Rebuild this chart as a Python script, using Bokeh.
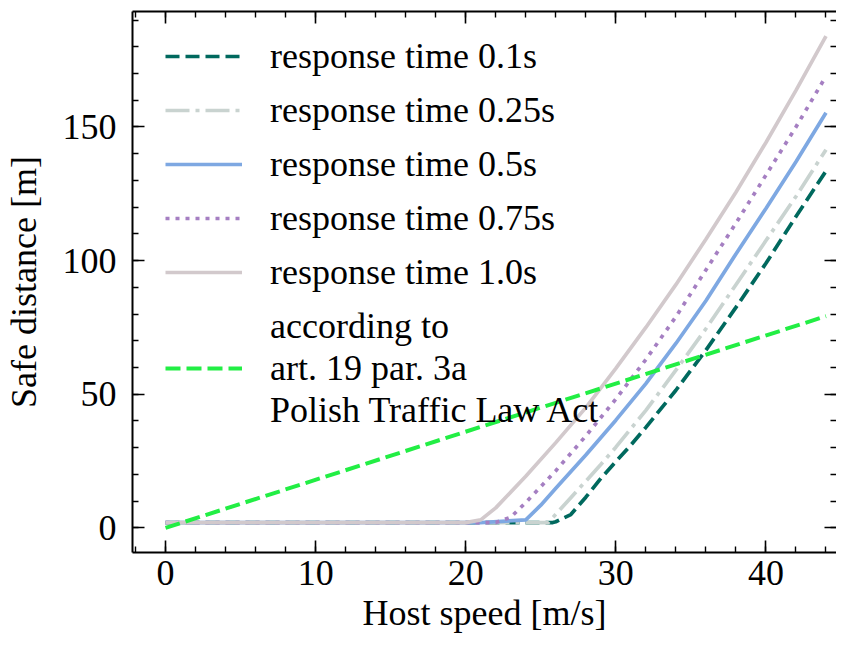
from bokeh.plotting import figure
from bokeh.models import (LinearAxis, SingleIntervalTicker, Range1d, Legend,
                          LegendItem, CustomJSTickFormatter)
from bokeh.embed import file_html
from bokeh.resources import INLINE

# ---- data ----
speed_t010 = [0, 25.8, 26, 27, 28, 29, 30, 31, 32, 34, 36, 38, 40, 42, 44]
dist_t010 = [2, 2, 2.3, 5, 11.5, 18.5, 24.8, 31, 37.6, 51.5, 66.5, 82.5, 99, 116.5, 133.5]

speed_t025 = [0, 25.5, 26, 27, 28, 29, 30, 32, 34, 36, 38, 40, 42, 44]
dist_t025 = [2, 2, 5.1, 11.3, 17.5, 23.7, 30.2, 44, 59, 74.5, 91, 107.5, 124, 141.5]

speed_t050 = [0, 21, 24, 25, 26, 28, 30, 32, 34, 36, 38, 40, 42, 44]
dist_t050 = [2, 2, 3, 8.5, 14.8, 27.3, 40.3, 54, 69, 85, 102.5, 119.5, 137, 155.3]

speed_t075 = [0, 22, 23, 24, 26, 28, 30, 32, 34, 36, 38, 40, 42, 44]
dist_t075 = [2, 2, 4, 9.5, 21.4, 34.4, 48.2, 63, 79, 96.5, 114, 132, 150, 169]

speed_t100 = [0, 20, 21, 22, 24, 26, 28, 30, 32, 34, 36, 38, 40, 42, 44]
dist_t100 = [2, 2, 3, 7.5, 19.3, 31.9, 45, 59.7, 75, 91, 108, 125.6, 144.2, 163.7, 184]

speed_law = [0, 44]
dist_law = [0, 79.2]

labels = ["response time 0.1s", "response time 0.25s", "response time 0.5s",
          "response time 0.75s", "response time 1.0s",
          "according to\nart. 19 par. 3a\nPolish Traffic Law Act"]

x_ticks_major = 10
y_ticks_major = 50

FONT = "Liberation Serif"
FS = "36px"

p = figure(width=836, height=635, output_backend="svg", toolbar_location=None,
           x_range=Range1d(-2.2, 44.7), y_range=Range1d(-9.2, 193.2),
           min_border_left=130, min_border_right=0, min_border_top=11,
           min_border_bottom=83, background_fill_color="white",
           border_fill_color="white", outline_line_color=None)
p.xgrid.visible = False
p.ygrid.visible = False

bottom = p.below[0]
left = p.left[0]

xt = SingleIntervalTicker(interval=x_ticks_major, num_minor_ticks=5)
yt = SingleIntervalTicker(interval=y_ticks_major, num_minor_ticks=5)

blank = CustomJSTickFormatter(code="return '';")
top = LinearAxis(ticker=xt, formatter=blank)
right = LinearAxis(ticker=yt, formatter=blank)
p.add_layout(top, "above")
p.add_layout(right, "right")

bottom.ticker = xt
left.ticker = yt

for ax in [bottom, left, top, right]:
    ax.major_tick_in = 12
    ax.major_tick_out = 0
    ax.minor_tick_in = 6
    ax.minor_tick_out = 0
    ax.major_tick_line_width = 1.6
    ax.minor_tick_line_width = 1.4
    ax.major_tick_line_color = "black"
    ax.minor_tick_line_color = "black"
    ax.axis_line_width = 2
    ax.axis_line_color = "black"
    ax.major_label_text_font = FONT
    ax.major_label_text_font_size = FS
    ax.major_label_text_color = "black"
    ax.axis_label_text_font = FONT
    ax.axis_label_text_font_size = FS
    ax.axis_label_text_font_style = "normal"
    ax.axis_label_text_color = "black"

for ax in [top, right]:
    ax.major_label_standoff = 0
right.axis_line_color = None

bottom.axis_label = "Host speed [m/s]"
left.axis_label = "Safe distance [m]"
bottom.major_label_standoff = 8
bottom.axis_label_standoff = 5
left.major_label_standoff = 16
left.axis_label_standoff = 16

LW = 3.7
r1 = p.line(speed_t010, dist_t010, line_color="#00695e", line_width=LW, line_dash="14 6")
r2 = p.line(speed_t025, dist_t025, line_color="#c9d3d0", line_width=LW, line_dash="24 6 4 6")
r3 = p.line(speed_t050, dist_t050, line_color="#7ea8e2", line_width=LW)
r4 = p.line(speed_t075, dist_t075, line_color="#a57fc2", line_width=LW, line_dash="4 6")
r5 = p.line(speed_t100, dist_t100, line_color="#d2c9cc", line_width=LW)
r6 = p.line(speed_law, dist_law, line_color="#22ee44", line_width=4, line_dash="15 6")

items = [LegendItem(label=lab, renderers=[r]) for lab, r in
         zip(labels, [r1, r2, r3, r4, r5, r6])]
legend = Legend(items=items, location=(7, 95), margin=0, padding=26,
                spacing=12, glyph_width=77, glyph_height=40, label_height=40,
                label_standoff=28, label_text_font=FONT, label_text_font_size=FS,
                label_text_color="black", label_text_line_height=0.9,
                background_fill_alpha=0, border_line_alpha=0)
p.add_layout(legend)

open("out.html", "w").write(file_html(p, INLINE))
